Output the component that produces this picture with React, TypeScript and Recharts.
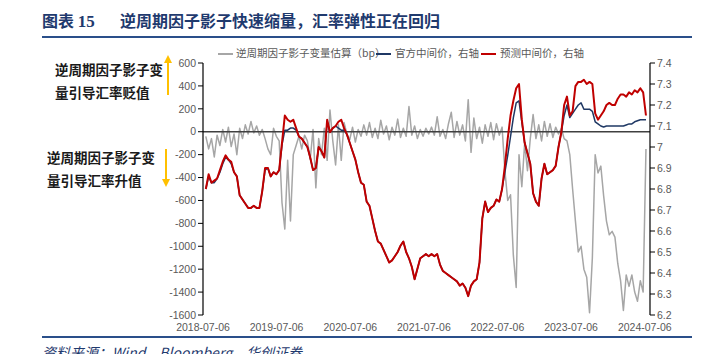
import React from 'react';
import { ComposedChart, Line, XAxis, YAxis, ReferenceLine } from 'recharts';

const DAY = 86400000;
const START = Date.UTC(2018, 6, 20);
const STEP_DAYS = 14;

// 官方中间价 (right axis)
const officialMid = [
  6.80, 6.86, 6.83, 6.83, 6.85, 6.88, 6.92, 6.95, 6.94, 6.92,
  6.88, 6.86, 6.77, 6.75, 6.73, 6.71, 6.71, 6.72, 6.71, 6.71,
  6.79, 6.89, 6.90, 6.86, 6.88, 6.87, 6.89, 7.01, 7.08, 7.08,
  7.09, 7.09, 7.08, 7.05, 7.04, 7.02, 7.00, 6.95, 6.89, 6.90,
  7.00, 6.98, 6.95, 7.12, 7.07, 7.09, 7.10, 7.09, 7.08, 7.08,
  7.06, 7.02, 6.98, 6.94, 6.88, 6.83, 6.82, 6.74, 6.72, 6.66,
  6.60, 6.55, 6.54, 6.51, 6.48, 6.45, 6.46, 6.48, 6.50, 6.53,
  6.55, 6.50, 6.47, 6.43, 6.37, 6.42, 6.47, 6.48, 6.49, 6.48,
  6.49, 6.48, 6.49, 6.44, 6.41, 6.40, 6.39, 6.38, 6.37, 6.36,
  6.34, 6.35, 6.33, 6.29, 6.34, 6.36, 6.37, 6.45, 6.66, 6.74,
  6.69, 6.71, 6.72, 6.75, 6.74, 6.80, 6.88, 6.96, 7.05, 7.14,
  7.21, 7.22, 7.12, 7.02, 6.97, 6.92, 6.78, 6.74, 6.72, 6.85,
  6.92, 6.87, 6.88, 6.89, 6.91, 7.00, 7.07, 7.15, 7.20, 7.14,
  7.16, 7.18, 7.20, 7.21, 7.18, 7.18, 7.18, 7.17, 7.12, 7.11,
  7.10, 7.095, 7.10, 7.10, 7.10, 7.10, 7.10, 7.10, 7.10, 7.105,
  7.11, 7.11, 7.12, 7.125, 7.13, 7.13, 7.13,
];

// 预测中间价 (right axis)
const forecastMid = [
  6.80, 6.87, 6.83, 6.84, 6.85, 6.89, 6.93, 6.96, 6.94, 6.93,
  6.88, 6.86, 6.77, 6.75, 6.73, 6.71, 6.71, 6.72, 6.71, 6.71,
  6.79, 6.90, 6.90, 6.86, 6.88, 6.87, 6.89, 7.02, 7.15, 7.13,
  7.12, 7.13, 7.09, 7.05, 7.04, 7.02, 7.00, 6.95, 6.89, 6.90,
  7.00, 6.98, 6.95, 7.13, 7.07, 7.09, 7.10, 7.12, 7.13, 7.09,
  7.06, 7.02, 6.98, 6.94, 6.88, 6.83, 6.82, 6.74, 6.72, 6.66,
  6.60, 6.55, 6.54, 6.51, 6.48, 6.45, 6.46, 6.48, 6.50, 6.53,
  6.55, 6.50, 6.47, 6.43, 6.37, 6.42, 6.47, 6.48, 6.49, 6.48,
  6.49, 6.48, 6.49, 6.44, 6.41, 6.40, 6.39, 6.38, 6.37, 6.36,
  6.34, 6.35, 6.33, 6.29, 6.34, 6.36, 6.37, 6.45, 6.66, 6.74,
  6.69, 6.71, 6.72, 6.75, 6.74, 6.80, 6.91, 7.04, 7.15, 7.22,
  7.28, 7.30, 7.13, 7.02, 6.97, 6.92, 6.78, 6.74, 6.72, 6.85,
  6.92, 6.87, 6.88, 6.89, 6.91, 7.00, 7.07, 7.20, 7.24, 7.15,
  7.17, 7.29, 7.31, 7.31, 7.32, 7.30, 7.31, 7.30, 7.16, 7.13,
  7.15, 7.17, 7.20, 7.21, 7.20, 7.20, 7.23, 7.25, 7.25, 7.24,
  7.26, 7.25, 7.27, 7.26, 7.28, 7.26, 7.15,
];

// 逆周期因子影子变量估算 bp (left axis)
const shadowFactor = [
  -40, -150, -60, -220, -30, -120, 20, -90, 40, -130,
  -20, -200, 30, -60, 60, -20, 90, -10, 50, -30,
  20, -60, -150, -200, 30, -40, -80, -620, -850, -250,
  -780, -200, -120, -40, -150, -30, -80, -240, 20, -490,
  -60, -200, 30, -250, 190, -80, -290, 60, -250, 80,
  -20, -70, 40, -90, 20, -40, 60, -30, 80, -50,
  30, -60, 100, -20, 50, -70, 40, -30, 110, -50,
  30, -40, 220, -30, 50, -60, 20, -40, 30, -20,
  40, -30, 130, -40, 20, -60, 70, 170, -50, 90,
  -30, 60, -80, 280, -180, 120, -60, 40, -100, 60,
  -40, 80, -70, 70, -30, 40, -340, -600, -550, -1080,
  -1360, -200, -480, -100, -340, -60, 150, -60, 60, -80,
  90, -40, 70, -50, 40, -20, 30, -60, -80, -200,
  -500, -780, -1050, -1000, -1200, -1270, -1580, -1100, -200, -360,
  -300, -560, -780, -900, -870, -920, -1150, -1300, -1560, -1250,
  -1350, -1250, -1400, -1480, -1300, -1400, -150,
];

const dates = forecastMid.map((_, i) => START + i * STEP_DAYS * DAY);
const xTickYears = [2018, 2019, 2020, 2021, 2022, 2023, 2024];
const xTicks = xTickYears.map((y) => Date.UTC(y, 6, 6));
const xDomain = [Date.UTC(2018, 6, 6), Date.UTC(2024, 7, 1)];
const leftTicks = [600, 400, 200, 0, -200, -400, -600, -800, -1000, -1200, -1400, -1600];
const rightTicks = [7.4, 7.3, 7.2, 7.1, 7.0, 6.9, 6.8, 6.7, 6.6, 6.5, 6.4, 6.3, 6.2];

const data = dates.map((t, i) => ({
  t,
  shadow: shadowFactor[i],
  official: officialMid[i],
  forecast: forecastMid[i],
}));

const tickFont = '"Liberation Sans Narrow", "Liberation Sans", sans-serif';
const cjk = '"Noto Sans CJK SC", sans-serif';
const navyTitle = '#1f3a6e';

const fmtDate = (t: number) => new Date(t).toISOString().slice(0, 10);

export default function App() {
  return (
    <div
      style={{
        position: 'absolute',
        left: 0,
        top: 0,
        width: 709,
        height: 354,
        overflow: 'hidden',
        background: '#fff',
        fontFamily: cjk,
      }}
    >
      {/* title */}
      <div style={{ position: 'absolute', left: 42, top: 8, color: navyTitle, fontWeight: 700, fontSize: 16, whiteSpace: 'nowrap' }}>
        图表 <span style={{ fontFamily: '"Liberation Serif", serif', fontSize: 17 }}>15</span>
      </div>
      <div style={{ position: 'absolute', left: 120, top: 8, color: navyTitle, fontWeight: 700, fontSize: 16, whiteSpace: 'nowrap' }}>
        逆周期因子影子快速缩量，汇率弹性正在回归
      </div>
      <div style={{ position: 'absolute', left: 42, top: 36, width: 650, height: 2, background: '#2a4f8a' }} />

      {/* legend */}
      <div style={{ position: 'absolute', left: 0, top: 45, fontSize: 10.5, color: '#595959', whiteSpace: 'nowrap' }}>
        <div style={{ position: 'absolute', left: 218, top: 8, width: 15, height: 2, background: '#a6a6a6' }} />
        <span style={{ position: 'absolute', left: 236, top: 0 }}>逆周期因子影子变量估算（bp）</span>
        <div style={{ position: 'absolute', left: 376, top: 8, width: 15, height: 2, background: '#1f3864' }} />
        <span style={{ position: 'absolute', left: 395, top: 0 }}>官方中间价，右轴</span>
        <div style={{ position: 'absolute', left: 481, top: 8, width: 15, height: 2, background: '#c00000' }} />
        <span style={{ position: 'absolute', left: 500, top: 0 }}>预测中间价，右轴</span>
      </div>

      {/* side annotations */}
      <div style={{ position: 'absolute', left: 55, top: 58, fontSize: 13.5, fontWeight: 700, color: '#1a1a1a', lineHeight: '23px', whiteSpace: 'nowrap' }}>
        逆周期因子影子变<br />量引导汇率贬值
      </div>
      <div style={{ position: 'absolute', left: 47, top: 146, fontSize: 13.5, fontWeight: 700, color: '#1a1a1a', lineHeight: '23px', whiteSpace: 'nowrap' }}>
        逆周期因子影子变<br />量引导汇率升值
      </div>
      <svg width={709} height={354} style={{ position: 'absolute', left: 0, top: 0, pointerEvents: 'none' }}>
        <line x1={168} y1={95} x2={168} y2={62} stroke="#ffc000" strokeWidth={2} />
        <polygon points="164,63 172,63 168,55" fill="#ffc000" />
        <line x1={166} y1={149} x2={166} y2={180} stroke="#ffc000" strokeWidth={2} />
        <polygon points="162,179 170,179 166,187" fill="#ffc000" />
      </svg>

      <div style={{ position: 'absolute', left: 0, top: 0 }}>
        <ComposedChart width={709} height={354} data={data} margin={{ top: 63, right: 19, bottom: 12, left: 163 }}>
          <XAxis
            dataKey="t"
            type="number"
            scale="time"
            domain={xDomain}
            ticks={xTicks}
            allowDataOverflow
            tickFormatter={fmtDate}
            axisLine={false}
            tickLine={false}
            tickSize={7}
            height={27}
            interval={0}
            tick={{ fontSize: 10.5, fill: '#595959', fontFamily: tickFont }}
          />
          <YAxis
            yAxisId="left"
            domain={[-1600, 600]}
            ticks={leftTicks}
            interval={0}
            width={40}
            allowDataOverflow
            axisLine={{ stroke: '#000', strokeWidth: 1.2 }}
            tickLine={{ stroke: '#000' }}
            tickSize={5}
            tick={{ fontSize: 10.5, fill: '#595959', fontFamily: tickFont }}
          />
          <YAxis
            yAxisId="right"
            orientation="right"
            domain={[6.2, 7.4]}
            ticks={rightTicks}
            interval={0}
            width={40}
            allowDataOverflow
            axisLine={{ stroke: '#000', strokeWidth: 1.2 }}
            tickLine={{ stroke: '#000' }}
            tickSize={5}
            tickFormatter={(v: number) => (v === 7 ? '7' : v.toFixed(1))}
            tick={{ fontSize: 10.5, fill: '#595959', fontFamily: tickFont }}
          />
          <Line
            yAxisId="left"
            dataKey="shadow"
            stroke="#a6a6a6"
            strokeWidth={1.5}
            dot={false}
            isAnimationActive={false}
            strokeLinejoin="round"
          />
          <ReferenceLine yAxisId="left" y={0} stroke="#404040" strokeWidth={1.5} />
          <Line
            yAxisId="right"
            dataKey="official"
            stroke="#1f3864"
            strokeWidth={1.5}
            dot={false}
            isAnimationActive={false}
            strokeLinejoin="round"
          />
          <Line
            yAxisId="right"
            dataKey="forecast"
            stroke="#c00000"
            strokeWidth={2}
            dot={false}
            isAnimationActive={false}
            strokeLinejoin="round"
          />
        </ComposedChart>
      </div>

      <div style={{ position: 'absolute', left: 42, top: 336, width: 650, height: 2, background: '#2a4f8a' }} />
      <div style={{ position: 'absolute', left: 42, top: 342, fontSize: 14, fontStyle: 'italic', color: navyTitle, whiteSpace: 'nowrap' }}>
        资料来源：Wind，Bloomberg，华创证券
      </div>
    </div>
  );
}
